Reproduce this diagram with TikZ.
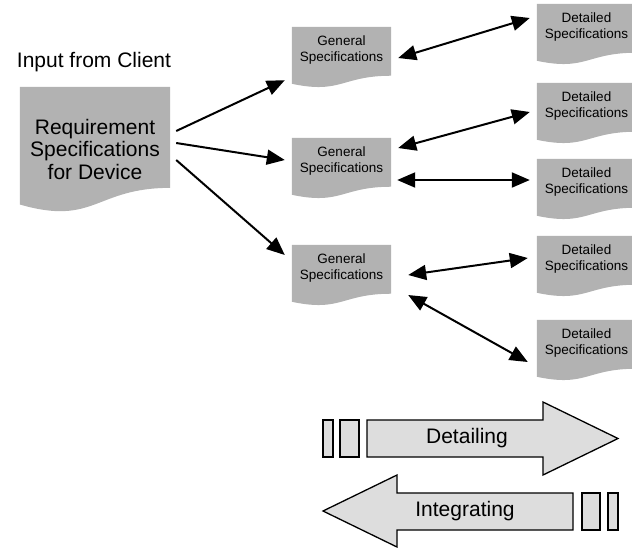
\documentclass[tikz,border=0pt]{standalone}
\usepackage{fontspec}
\setmainfont{Liberation Sans}
\usetikzlibrary{arrows.meta,calc,backgrounds}
\definecolor{docgray}{RGB}{178,178,178}
\definecolor{arrgray}{RGB}{221,221,221}
\tikzset{
  bigdoc/.style={minimum width=150pt, minimum height=124pt, inner sep=0pt, align=center, font=\fontsize{21}{22.5}\selectfont},
  smalldoc/.style={minimum width=99pt, minimum height=46pt, inner sep=0pt, align=center, font=\fontsize{13.5}{15.5}\selectfont},
  tiphead/.tip={Triangle[length=18pt,width=15pt]},
  link/.style={line width=2pt, -tiphead},
  dlink/.style={line width=2pt, tiphead-tiphead},
  bigarrow/.style={draw=black, line width=1.3pt, fill=arrgray, line join=miter},
  bigtext/.style={font=\fontsize{21}{24}\selectfont, inner sep=0pt},
  caption/.style={font=\fontsize{21}{24}\selectfont, inner sep=0pt}
}
\newcommand\docshape[2]{%
  \fill[docgray] (#1.north west) -- (#1.north east) -- ++(0,{0.802*#2})
    .. controls ($(#1.north)+(0,{0.802*#2})$) and ($(#1.north)+(0,{1.107*#2})$) ..
    ($(#1.north west)+(0,{0.934*#2})$) -- cycle;}
\begin{document}
\begin{tikzpicture}[x=1pt,y=-1pt]
\clip (0,0) rectangle (632,547);

\node[caption] (input) at (94,62) {Input from Client};

\node[bigdoc] (req) at (95,149) {Requirement\\Specifications\\for Device};

\node[smalldoc] (g1) at (341.5,50) {General\\Specifications};
\node[smalldoc] (g2) at (341.5,161) {General\\Specifications};
\node[smalldoc] (g3) at (341.5,268) {General\\Specifications};

\node[smalldoc] (d1) at (586.5,27) {Detailed\\Specifications};
\node[smalldoc] (d2) at (586.5,106) {Detailed\\Specifications};
\node[smalldoc] (d3) at (586.5,182) {Detailed\\Specifications};
\node[smalldoc] (d4) at (586.5,259) {Detailed\\Specifications};
\node[smalldoc] (d5) at (586.5,343) {Detailed\\Specifications};

\begin{scope}[on background layer]
  \docshape{req}{126}
  \docshape{g1}{61}
  \docshape{g2}{61}
  \docshape{g3}{61}
  \docshape{d1}{61}
  \docshape{d2}{61}
  \docshape{d3}{61}
  \docshape{d4}{61}
  \docshape{d5}{61}
\end{scope}

\draw[link] ($(req.east)+(6,-18)$) -- ($(g1.south west)+(-7,7)$);
\draw[link] ($(req.east)+(6,-6)$) -- ($(g2.west)+(-7,-1)$);
\draw[link] ($(req.east)+(6,11)$) -- ($(g3.west)+(-7,-13)$);

\draw[dlink] ($(g1.east)+(7,8)$) -- ($(d1.west)+(-7,-9)$);
\draw[dlink] ($(g2.east)+(7,-13)$) -- ($(d2.west)+(-7,6)$);
\draw[dlink] ($(g2.east)+(6,19)$) -- ($(d3.west)+(-7,-2)$);
\draw[dlink] ($(g3.east)+(17,7)$) -- ($(d4.west)+(-9,-1)$);
\draw[dlink] ($(g3.east)+(17,27)$) -- ($(d5.west)+(-9,19)$);

% Detailing arrow
\draw[bigarrow] (323,420) rectangle (333,457);
\draw[bigarrow] (340,420) rectangle (359,457);
\draw[bigarrow] (367,420) -- (543,420) -- (543,402) -- (618,438.5) -- (543,475) -- (543,457) -- (367,457) -- cycle;
\node[bigtext] (detailing) at (467,438.5) {Detailing};

% Integrating arrow
\draw[bigarrow] (582,493) rectangle (600,530);
\draw[bigarrow] (608,493) rectangle (618,530);
\draw[bigarrow] (573,493) -- (397,493) -- (397,475) -- (323,511) -- (397,547) -- (397,530) -- (573,530) -- cycle;
\node[bigtext] (integrating) at (465,511) {Integrating};
\end{tikzpicture}
\end{document}
